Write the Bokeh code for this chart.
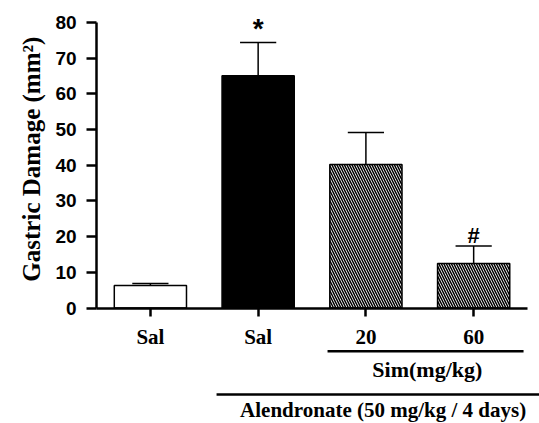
import math
from bokeh.plotting import figure
from bokeh.models import Range1d, FixedTicker, ColumnDataSource, LinearAxis
from bokeh.embed import file_html
from bokeh.resources import INLINE
from bokeh.core.properties import value

# ---- data ----
categories = ["Sal", "Sal", "20", "60"]
means = [6.3, 65.1, 40.2, 12.5]
upper = [6.9, 74.4, 49.2, 17.4]
fills = ["white", "black", "white", "white"]
hatches = ["blank", "blank", "\\", "\\"]
marks = ["", "*", "", "#"]
y_ticks = [0, 10, 20, 30, 40, 50, 60, 70, 80]
y_label = "Gastric Damage (mm²)"
sim_label = "Sim(mg/kg)"
alen_label = "Alendronate (50 mg/kg / 4 days)"

xs = list(range(1, len(categories) + 1))
SERIF = "Liberation Serif"
SANS = "Liberation Sans"
mark_size = {"*": "28px", "#": "22px", "": "22px"}

x_lo = 0.5          # left end of the x axis (category units)
x_hi = 4.5          # right end of the x axis

p = figure(width=539, height=423, output_backend="svg", toolbar_location=None,
           x_range=Range1d(-0.391, 4.611), y_range=Range1d(-32.36, 85.04),
           x_axis_location=None, y_axis_location=None,
           min_border_left=0, min_border_right=0, min_border_top=4, min_border_bottom=0)
p.outline_line_color = None
p.grid.visible = False
p.background_fill_color = "white"

# y axis placed at the left end of the x axis
yax = LinearAxis(fixed_location=x_lo, bounds=(y_ticks[0], y_ticks[-1]),
                 ticker=FixedTicker(ticks=y_ticks))
yax.minor_tick_line_color = None
yax.major_tick_in = 0
yax.major_tick_out = 10
yax.major_tick_line_width = 2.5
yax.axis_line_width = 2.5
yax.major_label_standoff = 10
yax.major_label_text_font = SANS
yax.major_label_text_font_style = "bold"
yax.major_label_text_font_size = "19px"
yax.major_label_text_color = "black"
p.add_layout(yax, "left")

# x axis at y = 0
xax = LinearAxis(fixed_location=0, bounds=(x_lo, x_hi),
                 ticker=FixedTicker(ticks=xs),
                 major_label_overrides={x: c for x, c in zip(xs, categories)})
xax.minor_tick_line_color = None
xax.major_tick_in = 0
xax.major_tick_out = 8
xax.major_tick_line_width = 2.5
xax.axis_line_width = 2.5
xax.major_label_standoff = 9
xax.major_label_text_font = SERIF
xax.major_label_text_font_style = "bold"
xax.major_label_text_font_size = "21px"
xax.major_label_text_color = "black"
p.add_layout(xax, "below")

# y-axis title, centred on the 0-80 span
p.text(x=[x_lo - 0.605], y=[(y_ticks[0] + y_ticks[-1]) / 2 + 1.7], text=[y_label],
       angle=math.pi / 2, text_align="center", text_baseline="middle",
       text_font=value(SERIF), text_font_style="bold", text_font_size="25px",
       text_color="black")

src = ColumnDataSource(dict(x=xs, top=means, up=upper, fill=fills, hatch=hatches,
                            mark=marks, msize=[mark_size[m] for m in marks],
                            cl=[x - 0.168 for x in xs], cr=[x + 0.168 for x in xs]))

p.segment(x0="x", y0="top", x1="x", y1="up", source=src, line_color="black", line_width=1.5)
p.segment(x0="cl", y0="up", x1="cr", y1="up", source=src, line_color="black", line_width=1.5)
p.vbar(x="x", top="top", bottom=0, width=0.67, source=src, fill_color="fill",
       line_color="black", line_width=1.5, hatch_pattern="hatch", hatch_color="black",
       hatch_scale=5, hatch_weight=1.5)
p.text(x="x", y="up", text="mark", source=src, text_align="center", text_baseline="bottom",
       y_offset=2, text_font=value(SANS), text_font_style="bold", text_font_size="msize",
       text_color="black")

# group brackets
sim_x0, sim_x1 = xs[2] - 0.356, xs[3] + 0.463
alen_x0, alen_x1 = xs[1] - 0.386, xs[3] + 0.62
p.segment(x0=[sim_x0, alen_x0], y0=[-12.1, -24.2], x1=[sim_x1, alen_x1], y1=[-12.1, -24.2],
          line_color="black", line_width=2.5)
p.text(x=[(xs[2] + xs[3]) / 2 + 0.07], y=[-17.2], text=[sim_label], text_align="center",
       text_baseline="middle", text_font=value(SERIF), text_font_style="bold",
       text_font_size="22px", text_color="black")
p.text(x=[3.16], y=[-28.6], text=[alen_label], text_align="center",
       text_baseline="alphabetic", text_font=value(SERIF), text_font_style="bold",
       text_font_size="21px", text_color="black")

open("out.html", "w").write(file_html(p, INLINE))
